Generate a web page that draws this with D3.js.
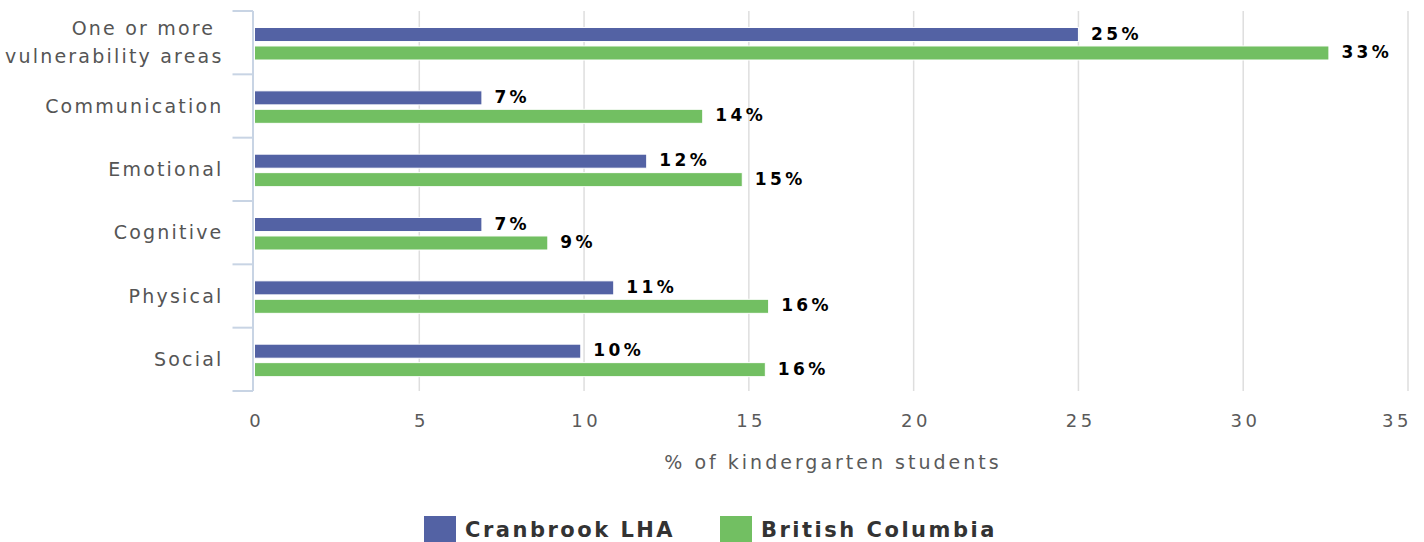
<!DOCTYPE html>
<meta charset="utf-8">
<script src="https://d3js.org/d3.v7.min.js"></script>
<style>
  body { margin: 0; background: #fff; }
  text { font-family: "DejaVu Sans", sans-serif; }
</style>
<div id="my_dataviz"></div>
<script>
  // data
  const categories = [["One or more\u00a0", "vulnerability areas"], ["Communication"], ["Emotional"], ["Cognitive"], ["Physical"], ["Social"]];
  const seriesNames = ["Cranbrook LHA", "British Columbia"];
  const cranbrook = [25.0, 6.9, 11.9, 6.9, 10.9, 9.9];
  const bc = [32.6, 13.6, 14.8, 8.9, 15.6, 15.5];
  const xTicks = [0, 5, 10, 15, 20, 25, 30, 35];
  const colors = ["#5362a4", "#72bf62"];

  const W = 1424, H = 542;
  const margin = { top: 11, right: 16, bottom: 151, left: 254.5 };
  const width = W - margin.left - margin.right,
    height = H - margin.top - margin.bottom;

  const svg = d3.select("#my_dataviz")
    .append("svg")
    .attr("width", W)
    .attr("height", H);
  const g = svg.append("g")
    .attr("transform", `translate(${margin.left},${margin.top})`);

  const x = d3.scaleLinear().domain([0, 35]).range([0, width]);
  const y = d3.scaleBand().domain(d3.range(categories.length)).range([0, height]);
  // two bars per category, 14px tall with a small gap
  const inner = d3.scaleBand().domain([0, 1]).range([16.5, 49]).paddingInner(0.24);

  // gridlines
  g.selectAll(".grid")
    .data(xTicks.slice(1))
    .join("line")
    .attr("x1", d => x(d)).attr("x2", d => x(d))
    .attr("y1", 0).attr("y2", height)
    .attr("stroke", "#dedede").attr("stroke-width", 1.5);

  // x axis labels
  const xAxis = g.append("g")
    .attr("transform", `translate(0,${height})`)
    .call(d3.axisBottom(x).tickValues(xTicks).tickSize(0).tickPadding(0));
  xAxis.select(".domain").remove();
  xAxis.selectAll("text")
    .attr("y", 29.5).attr("dy", "0.35em").attr("dx", 1.75)
    .attr("fill", "#5a5a5a").attr("font-size", 18).attr("letter-spacing", 3.5)
    .style("font-family", "DejaVu Sans");
  // last label is pulled inside the plot edge
  xAxis.selectAll("text").filter(d => d === xTicks[xTicks.length - 1])
    .attr("text-anchor", "end").attr("dx", 3.5);

  // y axis with category boundary ticks
  g.append("line")
    .attr("x1", -1.5).attr("x2", -1.5).attr("y1", 0).attr("y2", height)
    .attr("stroke", "#c8d4e4").attr("stroke-width", 2);
  g.selectAll(".ytick")
    .data(d3.range(categories.length + 1))
    .join("line")
    .attr("x1", -22).attr("x2", -1.5)
    .attr("y1", d => d * y.step()).attr("y2", d => d * y.step())
    .attr("stroke", "#c8d4e4").attr("stroke-width", 2);

  // category labels
  const catLabels = g.selectAll(".cat")
    .data(categories)
    .join("text")
    .attr("text-anchor", "end")
    .attr("fill", "#555").attr("font-size", 19).attr("letter-spacing", 2.2)
    .attr("transform", (d, i) => `translate(-31,${y(i) + y.bandwidth() / 2})`);
  catLabels.selectAll("tspan")
    .data(d => d.map((t, j) => ({ t, j, n: d.length })))
    .join("tspan")
    .attr("x", 0)
    .attr("y", d => (d.j - (d.n - 1) / 2) * 28)
    .attr("dy", "0.35em")
    .text(d => d.t);

  // bars and value labels
  const series = [cranbrook, bc];
  series.forEach((vals, s) => {
    g.selectAll(".bar" + s)
      .data(vals)
      .join("rect")
      .attr("x", x(0))
      .attr("y", (d, i) => y(i) + inner(s))
      .attr("width", d => x(d) - x(0))
      .attr("height", inner.bandwidth())
      .attr("fill", colors[s])
      .attr("stroke", "#fff").attr("stroke-width", 1);

    g.selectAll(".lab" + s)
      .data(vals)
      .join("text")
      .attr("x", d => x(d) + 12.5)
      .attr("y", (d, i) => y(i) + inner(s) + inner.bandwidth() / 2 - 0.8)
      .attr("dy", "0.35em")
      .attr("font-size", 17).attr("font-weight", "bold").attr("letter-spacing", 3.4)
      .attr("fill", "#000")
      .text(d => Math.round(d) + "%");
  });

  // x title
  svg.append("text")
    .attr("x", 833)
    .attr("y", 469)
    .attr("text-anchor", "middle")
    .attr("fill", "#5a5a5a").attr("font-size", 19).attr("letter-spacing", 3)
    .text("% of kindergarten students");

  // legend
  const legend = svg.append("g").attr("transform", "translate(424,516)");
  const legX = [0, 296];
  seriesNames.forEach((name, i) => {
    legend.append("rect")
      .attr("x", legX[i]).attr("y", 0)
      .attr("width", 32).attr("height", 26)
      .attr("fill", colors[i]);
    legend.append("text")
      .attr("x", legX[i] + 41).attr("y", 14).attr("dy", "0.35em")
      .attr("fill", "#333").attr("font-size", 21).attr("font-weight", "bold").attr("letter-spacing", 2.5)
      .text(name);
  });
</script>
